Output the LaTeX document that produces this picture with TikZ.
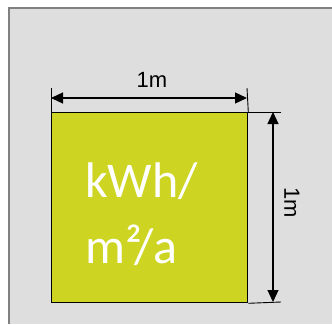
\documentclass[tikz,border=0pt]{standalone}
\usepackage{fontspec}
\setmainfont{Carlito}
\newfontfamily\labelfont{Liberation Sans}
\usetikzlibrary{arrows.meta}
\definecolor{panelgray}{RGB}{222,222,222}
\definecolor{framegray}{RGB}{128,128,128}
\definecolor{areagreen}{RGB}{205,212,34}
\tikzset{
  dimline/.style={line width=1.2pt, {Triangle[length=12pt,width=11pt]}-{Triangle[length=12pt,width=11pt]}},
  extline/.style={line width=0.9pt},
  dimlabel/.style={font=\labelfont\fontsize{22}{22}\selectfont, inner sep=0pt},
  unittext/.style={font=\fontsize{50}{50}\selectfont, text=white, inner sep=0pt, anchor=base west}
}
\begin{document}
\begin{tikzpicture}[x=1pt, y=-1pt]
    \useasboundingbox (0,0) rectangle (332,324);
    % Hintergrund
    \fill[white] (0,0) rectangle (332,324);
    \fill[panelgray] (9,8) rectangle (332,324);
    \draw[framegray, line width=1.5pt] (9,324) -- (9,8) -- (332,8);

    % Flaeche 1m x 1m
    \node[draw=black, fill=areagreen, line width=1.3pt, minimum width=196pt, minimum height=190pt,
          inner sep=0pt, anchor=north west] (sq) at (51,112) {};

    % Einheit
    \node[unittext] (kwh) at (85,197) {kWh/};
    \node[unittext] (pera) at (85,263) {m²/a};

    % Masslinie oben
    \coordinate (tl) at (51,88);
    \coordinate (tr) at (247,88);
    \draw[extline] (tl) -- (sq.north west);
    \draw[extline] (tr) -- (sq.north east);
    \draw[dimline] ([yshift=-10pt]tl) -- ([yshift=-10pt]tr);
    \node[dimlabel, anchor=base] (wlabel) at (152,87) {1m};

    % Masslinie rechts
    \coordinate (rt) at (281,112);
    \coordinate (rb) at (281,302);
    \draw[extline] (sq.north east) -- (rt);
    \draw[extline] (sq.south east) -- (rb);
    \draw[dimline] ([xshift=-8pt]rt) -- ([xshift=-8pt]rb);
    \node[dimlabel, rotate=-90] (hlabel) at (292,203) {1m};
\end{tikzpicture}
\end{document}
